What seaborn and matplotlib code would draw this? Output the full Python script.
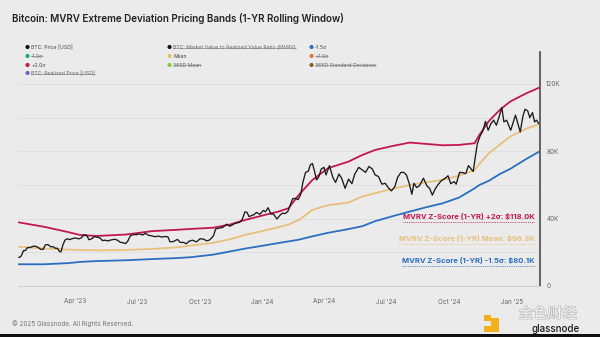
import matplotlib
matplotlib.use("Agg")
import matplotlib.pyplot as plt
from matplotlib.lines import Line2D
from matplotlib.patches import Rectangle
import matplotlib.patheffects as pe
import pandas as pd
import seaborn as sns

# ---------------- data (USD thousands) ----------------
price_dates = [
    "2023-01-08", "2023-01-11", "2023-01-13", "2023-01-15", "2023-01-18", "2023-01-21", "2023-01-25",
    "2023-01-29", "2023-02-02", "2023-02-06", "2023-02-09", "2023-02-13", "2023-02-16", "2023-02-20",
    "2023-02-24", "2023-02-28", "2023-03-03", "2023-03-06", "2023-03-09", "2023-03-11", "2023-03-14",
    "2023-03-17", "2023-03-20", "2023-03-24", "2023-03-29", "2023-04-02", "2023-04-06", "2023-04-10",
    "2023-04-14", "2023-04-18", "2023-04-21", "2023-04-25", "2023-04-29", "2023-05-03", "2023-05-07",
    "2023-05-11", "2023-05-15", "2023-05-19", "2023-05-23", "2023-05-29", "2023-06-02", "2023-06-06",
    "2023-06-10", "2023-06-14", "2023-06-17", "2023-06-21", "2023-06-25", "2023-06-30", "2023-07-04",
    "2023-07-09", "2023-07-13", "2023-07-17", "2023-07-22", "2023-07-27", "2023-08-01", "2023-08-06",
    "2023-08-11", "2023-08-15", "2023-08-18", "2023-08-23", "2023-08-29", "2023-09-02", "2023-09-07",
    "2023-09-11", "2023-09-15", "2023-09-20", "2023-09-26", "2023-10-01", "2023-10-06", "2023-10-11",
    "2023-10-15", "2023-10-18", "2023-10-21", "2023-10-24", "2023-10-30", "2023-11-03", "2023-11-09",
    "2023-11-14", "2023-11-17", "2023-11-22", "2023-11-28", "2023-12-02", "2023-12-06", "2023-12-09",
    "2023-12-12", "2023-12-16", "2023-12-19", "2023-12-23", "2023-12-28", "2024-01-02", "2024-01-05",
    "2024-01-09", "2024-01-13", "2024-01-17", "2024-01-22", "2024-01-26", "2024-01-30", "2024-02-03",
    "2024-02-07", "2024-02-10", "2024-02-14", "2024-02-18", "2024-02-22", "2024-02-26", "2024-02-29",
    "2024-03-04", "2024-03-08", "2024-03-11", "2024-03-14", "2024-03-17", "2024-03-20", "2024-03-23",
    "2024-03-27", "2024-03-31", "2024-04-03", "2024-04-08", "2024-04-13", "2024-04-17", "2024-04-22",
    "2024-04-26", "2024-05-01", "2024-05-06", "2024-05-11", "2024-05-15", "2024-05-21", "2024-05-26",
    "2024-05-31", "2024-06-05", "2024-06-10", "2024-06-14", "2024-06-19", "2024-06-24", "2024-06-29",
    "2024-07-04", "2024-07-08", "2024-07-13", "2024-07-17", "2024-07-22", "2024-07-26", "2024-07-30",
    "2024-08-03", "2024-08-07", "2024-08-10", "2024-08-14", "2024-08-18", "2024-08-24", "2024-08-29",
    "2024-09-02", "2024-09-06", "2024-09-10", "2024-09-14", "2024-09-19", "2024-09-25", "2024-09-29",
    "2024-10-03", "2024-10-08", "2024-10-11", "2024-10-16", "2024-10-21", "2024-10-25", "2024-10-29",
    "2024-11-02", "2024-11-05", "2024-11-08", "2024-11-11", "2024-11-15", "2024-11-19", "2024-11-23",
    "2024-11-27", "2024-12-01", "2024-12-05", "2024-12-09", "2024-12-13", "2024-12-17", "2024-12-20",
    "2024-12-24", "2024-12-30", "2025-01-06", "2025-01-13", "2025-01-17", "2025-01-20", "2025-01-24",
    "2025-01-27", "2025-01-31", "2025-02-03", "2025-02-06", "2025-02-09", "2025-02-11",
]
price_values = [
    17.0, 17.4, 19.0, 21.0, 21.1, 22.8, 22.9,
    23.6, 23.6, 22.8, 21.8, 21.8, 24.4, 24.6,
    23.3, 23.3, 22.4, 22.4, 20.4, 20.3, 24.5,
    27.3, 28.0, 27.6, 28.3, 28.5, 28.0, 28.6,
    30.5, 30.0, 27.5, 28.0, 29.3, 29.0, 28.6,
    27.0, 27.2, 26.8, 27.3, 27.8, 27.2, 26.0,
    25.7, 25.2, 26.6, 29.9, 30.5, 30.5, 31.0,
    30.3, 31.3, 30.2, 29.8, 29.3, 29.6, 29.1,
    29.4, 29.2, 26.3, 26.4, 27.7, 25.9, 25.9,
    25.1, 26.6, 27.2, 26.2, 28.0, 27.9, 26.8,
    27.3, 28.5, 30.0, 33.9, 34.5, 34.7, 36.7,
    35.5, 36.2, 37.3, 37.8, 39.5, 44.0, 43.8,
    41.2, 41.9, 42.3, 43.7, 42.6, 44.9, 44.1,
    46.5, 42.8, 42.7, 39.8, 41.8, 43.3, 43.0,
    44.3, 47.5, 51.8, 52.1, 51.3, 54.5, 61.5,
    67.5, 68.2, 72.0, 72.8, 68.4, 63.0, 64.5,
    69.5, 70.5, 66.0, 71.5, 64.5, 61.5, 66.5,
    64.0, 58.0, 63.5, 60.8, 66.3, 70.5, 69.0,
    67.5, 71.0, 69.5, 66.0, 65.0, 60.5, 61.0,
    58.0, 56.5, 59.0, 64.5, 67.5, 67.5, 66.0,
    61.0, 54.5, 61.0, 58.5, 59.5, 64.0, 59.5,
    58.0, 54.0, 57.5, 60.0, 62.5, 64.0, 65.5,
    60.8, 62.0, 60.5, 67.5, 67.3, 66.7, 71.5,
    69.5, 68.0, 76.5, 84.5, 89.0, 92.0, 97.8,
    92.5, 96.5, 98.5, 95.5, 100.5, 106.0, 97.5,
    98.5, 92.5, 101.5, 91.5, 101.0, 105.0, 104.0,
    100.0, 103.0, 97.5, 98.5, 96.5, 96.6,
]

band_dates = [
    "2023-01-08", "2023-02-14", "2023-03-22", "2023-04-08", "2023-05-02", "2023-06-15",
    "2023-07-23", "2023-08-29", "2023-09-17", "2023-10-20", "2023-11-14", "2023-12-06",
    "2024-01-02", "2024-01-24", "2024-02-08", "2024-02-23", "2024-03-14", "2024-04-06",
    "2024-05-06", "2024-05-26", "2024-06-14", "2024-07-10", "2024-08-04", "2024-08-28",
    "2024-09-21", "2024-10-15", "2024-11-07", "2024-11-14", "2024-11-28", "2024-12-14",
    "2024-12-29", "2025-01-22", "2025-02-11",
]
plus2_values = [
    37.8, 35.2, 32.0, 30.3, 29.7, 30.6,
    32.6, 33.4, 33.9, 34.6, 36.5, 39.2,
    42.0, 44.2, 46.2, 54.1, 63.0, 70.0,
    73.9, 77.8, 80.8, 83.2, 85.2, 84.4,
    83.6, 83.8, 84.8, 89.7, 98.0, 104.6,
    109.5, 114.5, 118.0,
]
mean_values = [
    23.3, 22.3, 21.6, 21.4, 21.2, 21.4,
    22.0, 23.0, 24.0, 25.6, 27.8, 30.3,
    32.8, 34.9, 36.5, 39.2, 45.2, 48.0,
    49.6, 53.1, 55.1, 57.8, 60.0, 61.6,
    63.0, 65.5, 68.9, 72.5, 78.8, 84.0,
    88.7, 93.5, 96.3,
]
minus15_values = [
    12.9, 12.9, 13.6, 14.3, 14.8, 15.3,
    16.0, 16.6, 17.1, 18.6, 20.5, 22.2,
    24.0, 25.5, 26.5, 27.5, 29.5, 31.6,
    33.8, 35.5, 38.5, 41.5, 44.2, 46.8,
    49.1, 52.5, 58.0, 60.0, 62.5, 66.5,
    69.5, 75.5, 80.1,
]

quarter_ticks = ["2023-04-01", "2023-07-01", "2023-10-01", "2024-01-01",
                 "2024-04-01", "2024-07-01", "2024-10-01", "2025-01-01"]
quarter_labels = ["Apr '23", "Jul '23", "Oct '23", "Jan '24",
                  "Apr '24", "Jul '24", "Oct '24", "Jan '25"]
y_ticks = [0, 40000, 80000, 120000]
y_labels = ["0", "40K", "80K", "120K"]

# ---------------- styling ----------------
BG = "#ebebeb"
RED = "#c3174f"
TAN = "#e8c07c"
BLUE = "#2a6fc0"

sns.set_theme(style="white")
plt.rcParams["font.family"] = ["Inter", "DejaVu Sans"]

W, H = 600, 337
fig = plt.figure(figsize=(W / 100, H / 100), dpi=100, facecolor=BG)
ax = fig.add_axes([18 / W, 51 / H, 522 / W, 234 / H], facecolor=BG)

price = pd.DataFrame({"date": pd.to_datetime(price_dates),
                      "value": [v * 1000 for v in price_values]})
bands = pd.DataFrame({"date": pd.to_datetime(band_dates),
                      "plus2": [v * 1000 for v in plus2_values],
                      "mean": [v * 1000 for v in mean_values],
                      "minus15": [v * 1000 for v in minus15_values]})

sns.lineplot(data=bands, x="date", y="minus15", ax=ax, color=BLUE, lw=1.3)
sns.lineplot(data=bands, x="date", y="mean", ax=ax, color=TAN, lw=1.3)
sns.lineplot(data=bands, x="date", y="plus2", ax=ax, color=RED, lw=1.3)
sns.lineplot(data=price, x="date", y="value", ax=ax, color="#1b1b1b", lw=0.95)

ax.set_xlim(pd.Timestamp("2023-01-07"), pd.Timestamp("2025-02-11"))
ax.set_ylim(0, 139000)
ax.set_xlabel("")
ax.set_ylabel("")

ax.set_xticks(pd.to_datetime(quarter_ticks))
ax.set_xticklabels(quarter_labels, fontsize=4.6, color="#666666")
ax.yaxis.tick_right()
ax.set_yticks(y_ticks)
ax.set_yticklabels(y_labels, fontsize=4.6, color="#666666")
ax.tick_params(axis="both", length=0)
ax.tick_params(axis="x", pad=9)
ax.tick_params(axis="y", pad=4.5)

for yv in range(0, 140000, 20000):
    ax.axhline(yv, color="#dddddd", lw=0.6, zorder=0)

for side in ["top", "left"]:
    ax.spines[side].set_visible(False)
ax.spines["bottom"].set_color("#cfcfcf")
ax.spines["bottom"].set_linewidth(0.8)
ax.spines["right"].set_color("#5a5a5a")
ax.spines["right"].set_linewidth(1.3)
ax.axvline(pd.Timestamp("2025-02-10"), color="#888888", lw=0.8, ls=(0, (1, 1.5)))

# ---------------- value annotations ----------------
ann = [
    ("MVRV Z-Score (1-YR) +2σ: $118.0K", RED, 216.5),
    ("MVRV Z-Score (1-YR) Mean: $96.3K", TAN, 239.0),
    ("MVRV Z-Score (1-YR) -1.5σ: $80.1K", BLUE, 260.5),
]
ann_texts = []
for label, col, ypx in ann:
    t = fig.text(535 / W, 1 - ypx / H, label, color=col, fontsize=5.5,
                 fontweight="bold", ha="right", va="center")
    ann_texts.append((t, col))

# ---------------- title, legend, footer ----------------
fig.text(12 / W, 1 - 18 / H,
         "Bitcoin: MVRV Extreme Deviation Pricing Bands (1-YR Rolling Window)",
         fontsize=7.1, fontweight="semibold", color="#222222", ha="left", va="center")

legend_items = [
    ("BTC: Price [USD]", "#111111", 0, 0, False),
    ("BTC: Market Value to Realized Value Ratio (MVRV)", "#111111", 1, 0, True),
    ("-1.5σ", "#2a6fc0", 2, 0, False),
    ("-1.0σ", "#1aaa86", 0, 1, True),
    ("Mean", "#e2c069", 1, 1, False),
    ("+1.0σ", "#e0743a", 2, 1, True),
    ("+2.0σ", "#c3174f", 0, 2, False),
    ("365D Mean", "#8cc63f", 1, 2, True),
    ("365D Standard Deviation", "#8a5a1e", 2, 2, True),
    ("BTC: Realized Price [USD]", "#7c5cc4", 0, 3, True),
]
col_x = [27, 169, 311]
row_y = [47.5, 56.3, 65.1, 73.9]
struck = []
for label, col, ci, ri, off in legend_items:
    x0 = col_x[ci]
    y0 = row_y[ri]
    fig.text(x0 / W, 1 - y0 / H, "●", color=col, fontsize=4.0, ha="center", va="center")
    t = fig.text((x0 + 4) / W, 1 - y0 / H, label, color="#666666" if off else "#444444",
                 fontsize=3.7, ha="left", va="center")
    if off:
        struck.append(t)

fig.text(12 / W, 1 - 324 / H, "© 2025 Glassnode. All Rights Reserved.",
         fontsize=4.6, color="#777777", ha="left", va="center")

# bottom-right marks
for (x, y, w, h) in [(484, 315, 7, 6), (491, 318, 8, 14), (484, 326, 15, 6)]:
    fig.add_artist(Rectangle((x / W, 1 - (y + h) / H), w / W, h / H,
                             transform=fig.transFigure, color="#f3b01b", lw=0))
fig.text(548 / W, 1 - 314 / H, "金色财经", fontsize=10.5, color="#f5f5f5",
         family=["Noto Sans CJK SC", "DejaVu Sans"], ha="center", va="center",
         path_effects=[pe.withStroke(linewidth=0.8, foreground="#b5b5b5")])
fig.text(556 / W, 1 - 328.5 / H, "glassnode", fontsize=7.0, color="#1a1a1a",
         fontweight="medium", ha="center", va="center")
fig.add_artist(Rectangle((0, 0), 1, 3.5 / H, transform=fig.transFigure,
                         color="#111111", lw=0))

# strike-through lines and dotted underlines need rendered text extents
fig.canvas.draw()
renderer = fig.canvas.get_renderer()
inv = fig.transFigure.inverted()
for t in struck:
    bb = t.get_window_extent(renderer)
    (x0, y0), (x1, y1) = inv.transform([(bb.x0, bb.y0), (bb.x1, bb.y1)])
    ym = (y0 + y1) / 2
    fig.add_artist(Line2D([x0, x1], [ym, ym], transform=fig.transFigure,
                          color="#777777", lw=0.4))
for t, col in ann_texts:
    bb = t.get_window_extent(renderer)
    (x0, y0), (x1, y1) = inv.transform([(bb.x0, bb.y0), (bb.x1, bb.y1)])
    yl = y0 - 1.5 / H
    fig.add_artist(Line2D([x0, x1], [yl, yl], transform=fig.transFigure,
                          color=col, lw=0.6, ls=(0, (1, 1.2))))

fig.savefig("out.png", dpi=100, facecolor=BG)
